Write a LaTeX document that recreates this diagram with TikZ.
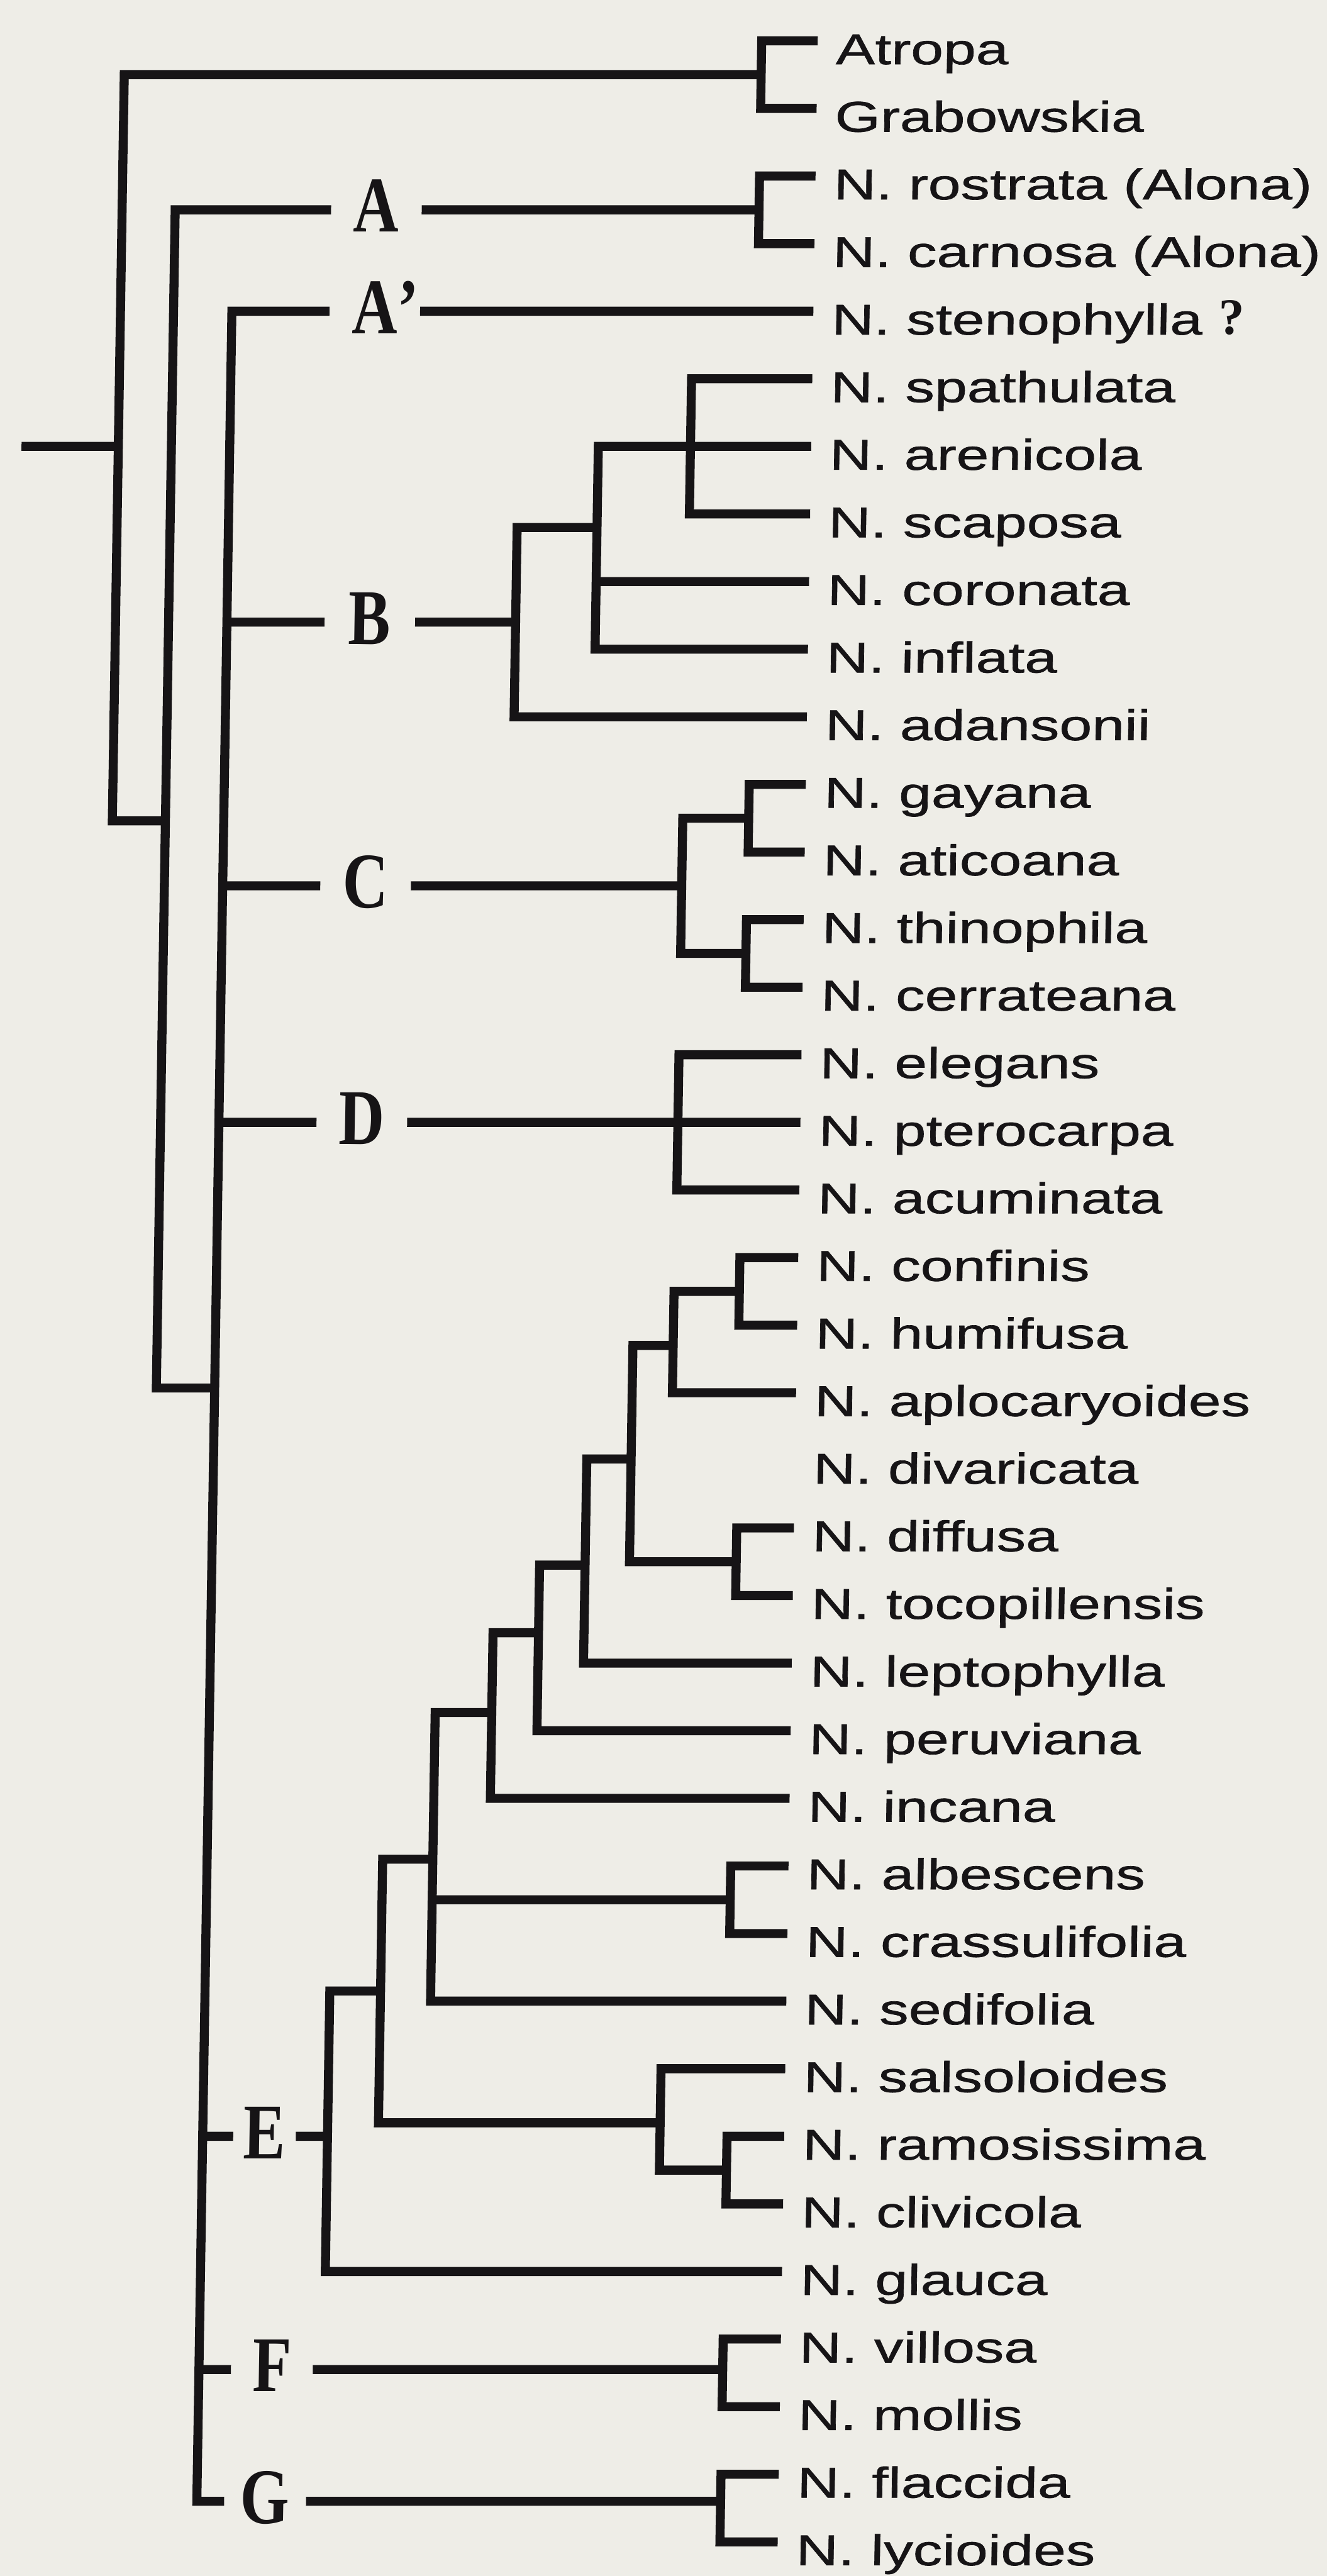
\documentclass[tikz,border=0pt]{standalone}
\usepackage{fontspec}
\usepackage{tikz}
\newfontfamily\taxonfont[FakeStretch=1.36,FakeBold=1]{Liberation Sans}
\newfontfamily\cladefont[FakeStretch=0.8]{Liberation Serif}
\newfontfamily\markfont{Liberation Serif}
\newcommand\unsure{{\markfont\bfseries\fontsize{25}{25}\selectfont ?}}
\definecolor{paper}{RGB}{238,237,231}
\definecolor{ink}{RGB}{22,20,22}
\tikzset{
  branch/.style={ink,line width=4.4pt},
  taxon/.style={anchor=west,inner xsep=0.31cm,inner ysep=0pt,text height=0.8cm,text depth=0pt,text=ink,font=\taxonfont\fontsize{21}{21}\selectfont},
  clade/.style={inner sep=0pt,minimum width=1.54cm,text height=0.76cm,text depth=0pt,text=ink,font=\cladefont\bfseries\fontsize{38.5}{38.5}\selectfont},
}
\begin{document}
\begin{tikzpicture}[x=1cm,y=-1.159cm]
  \path[use as bounding box,fill=paper] (0,-0.604) rectangle (22.75,37.505);
  \begin{scope}[transform canvas={xslant=0.016}]
  % taxa, one row each
  \foreach \id/\txt [count=\i from 0] in {atropa/Atropa, grabowskia/Grabowskia,
      rostrata/N. rostrata (Alona), carnosa/N. carnosa (Alona), stenophylla/N. stenophylla \unsure,
      spathulata/N. spathulata, arenicola/N. arenicola, scaposa/N. scaposa, coronata/N. coronata,
      inflata/N. inflata, adansonii/N. adansonii, gayana/N. gayana, aticoana/N. aticoana,
      thinophila/N. thinophila, cerrateana/N. cerrateana, elegans/N. elegans, pterocarpa/N. pterocarpa,
      acuminata/N. acuminata, confinis/N. confinis, humifusa/N. humifusa, aplocaryoides/N. aplocaryoides,
      divaricata/N. divaricata, diffusa/N. diffusa, tocopillensis/N. tocopillensis,
      leptophylla/N. leptophylla, peruviana/N. peruviana, incana/N. incana, albescens/N. albescens,
      crassulifolia/N. crassulifolia, sedifolia/N. sedifolia, salsoloides/N. salsoloides,
      ramosissima/N. ramosissima, clivicola/N. clivicola, glauca/N. glauca, villosa/N. villosa,
      mollis/N. mollis, flaccida/N. flaccida, lycioides/N. lycioides}
    \node[taxon] (\id) at (14.02,\i) {\txt};

  % internal nodes
  \coordinate (stub) at (0.48,6.0);
  \coordinate (root) at (2.14,6.0);
  \coordinate (og) at (13.06,0.5);
  \coordinate (ing) at (3.05,11.54);
  \coordinate (rest) at (4.05,19.93);
  \coordinate (nA) at (13.06,2.5);
  \coordinate (nB) at (9.00,8.6);
  \coordinate (nB1) at (10.37,7.2);
  \coordinate (nB2) at (11.95,6);
  \coordinate (nC) at (11.92,12.5);
  \coordinate (nC1) at (13.05,11.5);
  \coordinate (nC2) at (13.04,13.5);
  \coordinate (nD) at (11.92,16);
  \coordinate (ncon) at (13.02,18.5);
  \coordinate (e1) at (11.90,19.3);
  \coordinate (e2) at (11.21,20.98);
  \coordinate (ndif) at (13.04,22.5);
  \coordinate (e3) at (10.45,22.55);
  \coordinate (e4) at (9.67,23.55);
  \coordinate (e5) at (8.89,24.73);
  \coordinate (e6) at (7.92,26.9);
  \coordinate (nalb) at (13.03,27.5);
  \coordinate (e7) at (7.06,28.85);
  \coordinate (nsal) at (11.89,30.8);
  \coordinate (nram) at (13.04,31.5);
  \coordinate (nE) at (6.19,31.0);
  \coordinate (nF) at (13.03,34.45);
  \coordinate (nG) at (13.03,36.4);

  % clade letters
  \node[clade] (labA) at (6.50,2.5) {A};
  \node[clade] (labAp) at (6.50,4) {A\rlap{’}};
  \node[clade] (labB) at (6.50,8.6) {B};
  \node[clade] (labC) at (6.50,12.5) {C};
  \node[clade] (labD) at (6.50,16) {D};
  \node[clade,minimum width=1.06cm] (labE) at (5.11,31.0) {E};
  \node[clade,minimum width=1.39cm] (labF) at (5.30,34.45) {F};
  \node[clade,minimum width=1.39cm] (labG) at (5.22,36.4) {G};

  % backbone
  \draw[branch] (stub) -- (root);
  \draw[branch] (og) -| (root) |- (ing);
  \draw[branch] (atropa.west) -| (og) |- (grabowskia.west);
  \draw[branch] (labA.west) -| (ing) |- (rest);
  \draw[branch] (labA.east) -- (nA);
  \draw[branch] (rostrata.west) -| (nA) |- (carnosa.west);
  \draw[branch] (labAp.west) -| (rest) |- (labG.west);
  \foreach \lab in {labB,labC,labD,labE,labF}
    \draw[branch] (rest |- \lab.west) -- (\lab.west);
  \draw[branch] (labAp.east) -- (stenophylla.west);
  % B
  \draw[branch] (labB.east) -- (nB);
  \draw[branch] (nB1) -| (nB) |- (adansonii.west);
  \draw[branch] (nB2) -| (nB1) |- (inflata.west);
  \draw[branch] (nB1 |- coronata.west) -- (coronata.west);
  \draw[branch] (spathulata.west) -| (nB2) |- (scaposa.west);
  \draw[branch] (nB2) -- (arenicola.west);
  % C
  \draw[branch] (labC.east) -- (nC);
  \draw[branch] (nC1) -| (nC) |- (nC2);
  \draw[branch] (gayana.west) -| (nC1) |- (aticoana.west);
  \draw[branch] (thinophila.west) -| (nC2) |- (cerrateana.west);
  % D
  \draw[branch] (labD.east) -- (nD);
  \draw[branch] (elegans.west) -| (nD) |- (acuminata.west);
  \draw[branch] (nD) -- (pterocarpa.west);
  % E
  \draw[branch] (labE.east) -- (nE);
  \draw[branch] (e7) -| (nE) |- (glauca.west);
  \draw[branch] (e6) -| (e7) |- (nsal);
  \draw[branch] (e5) -| (e6) |- (sedifolia.west);
  \draw[branch] (e6 |- nalb) -- (nalb);
  \draw[branch] (albescens.west) -| (nalb) |- (crassulifolia.west);
  \draw[branch] (e4) -| (e5) |- (incana.west);
  \draw[branch] (e3) -| (e4) |- (peruviana.west);
  \draw[branch] (e2) -| (e3) |- (leptophylla.west);
  \draw[branch] (e1) -| (e2) |- (ndif);
  \draw[branch] (diffusa.west) -| (ndif) |- (tocopillensis.west);
  \draw[branch] (ncon) -| (e1) |- (aplocaryoides.west);
  \draw[branch] (confinis.west) -| (ncon) |- (humifusa.west);
  \draw[branch] (salsoloides.west) -| (nsal) |- (nram);
  \draw[branch] (ramosissima.west) -| (nram) |- (clivicola.west);
  % F, G
  \draw[branch] (labF.east) -- (nF);
  \draw[branch] (villosa.west) -| (nF) |- (mollis.west);
  \draw[branch] (labG.east) -- (nG);
  \draw[branch] (flaccida.west) -| (nG) |- (lycioides.west);
  \end{scope}
\end{tikzpicture}
\end{document}
